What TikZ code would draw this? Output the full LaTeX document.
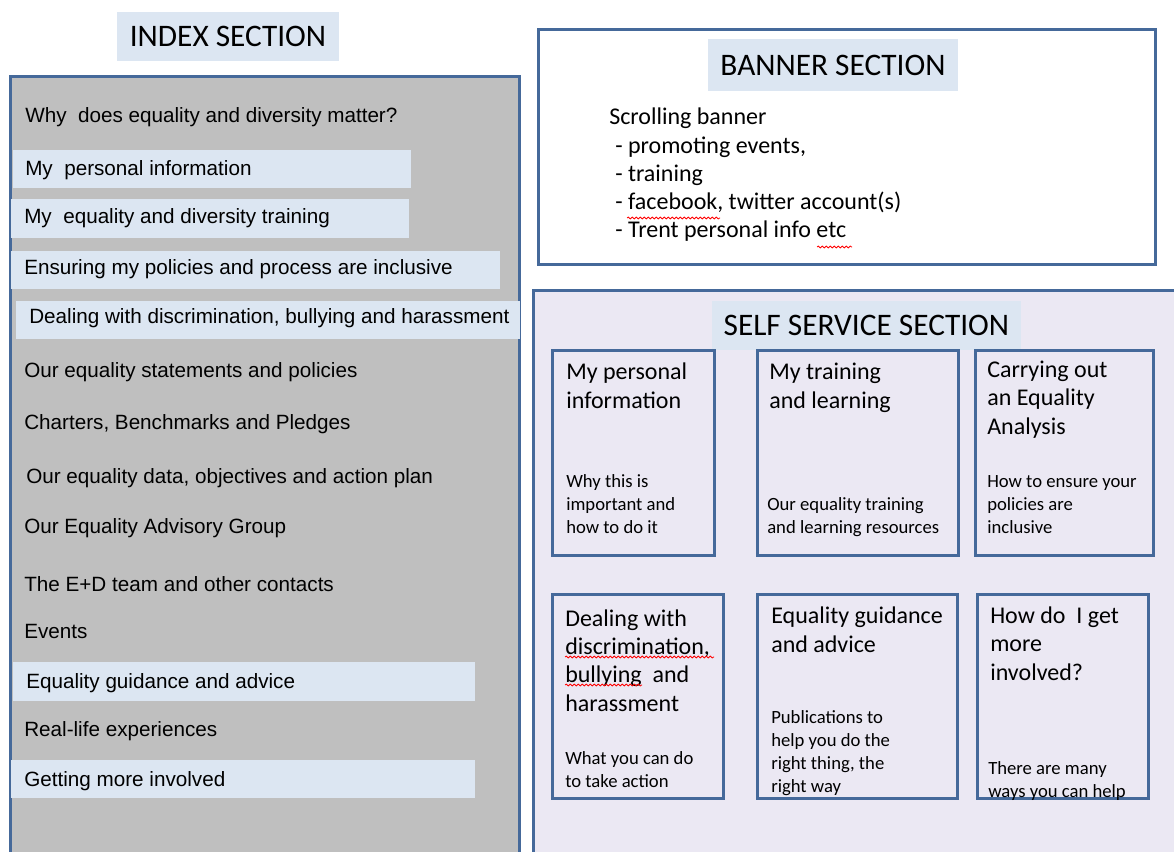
\documentclass[tikz,border=0pt]{standalone}
\usepackage{fontspec}
\usepackage{tikz}
\usetikzlibrary{decorations.pathmorphing}
\newfontfamily\calibri{Carlito}
\newfontfamily\arial{Liberation Sans}
\definecolor{hlblue}{HTML}{DCE6F2}
\definecolor{panelgray}{HTML}{BFBFBF}
\definecolor{ssfill}{HTML}{EBE8F3}
\definecolor{edgeblue}{HTML}{45699A}
\tikzset{%
  panel/.style = {draw=edgeblue,line width=2.25pt},
  hl/.style = {fill=hlblue},
  sectitle/.style = {fill=hlblue,inner sep=0pt,
        font=\calibri\fontsize{23.5}{28}\selectfont},
  item/.style = {anchor=base west,inner sep=0pt,
        font=\arial\fontsize{15.5}{18}\selectfont},
  cardhead/.style = {anchor=base west,inner sep=0pt,align=left,
        font=\calibri\fontsize{18}{21.2}\selectfont},
  cardsub/.style = {anchor=base west,inner sep=0pt,align=left,
        font=\calibri\fontsize{14}{17.25}\selectfont},
  spell/.style = {red,line width=0.6pt,decorate,
        decoration={snake,amplitude=0.7pt,segment length=3pt}}
}

\begin{document}
\begin{tikzpicture}[x=0.75pt,y=-0.75pt]
   \clip (0,0) rectangle (1174,852);

   % index section
   \node[sectitle,minimum width=166.5pt,minimum height=36.75pt]
      (idxtitle) at (228,36.5) {INDEX SECTION};
   \draw[panel,fill=panelgray] (10,77) rectangle (519,900);

   \fill[hl] (13,150) rectangle (411,188);
   \fill[hl] (11,199) rectangle (409,238);
   \fill[hl] (11,251) rectangle (500,289);
   \fill[hl] (16,301) rectangle (520,339);
   \fill[hl] (13,662) rectangle (475,701);
   \fill[hl] (11,760) rectangle (475,798);

   \node[item] (whymatter) at (25,123) {Why\ \ does equality and diversity matter?};
   \node[item] (pinfo) at (25,176) {My\ \ personal information};
   \node[item] (edtrain) at (24,224) {My\ \ equality and diversity training};
   \node[item] (inclusive) at (24,275) {Ensuring my policies and process are inclusive};
   \node[item] (discrim) at (29,324) {Dealing with discrimination, bullying and harassment};
   \node[item] (statements) at (24,377) {Our equality statements and policies};
   \node[item] (charters) at (24,429) {Charters, Benchmarks and Pledges};
   \node[item] (eqdata) at (26,483) {Our equality data, objectives and action plan};
   \node[item] (advisory) at (24,533) {Our Equality Advisory Group};
   \node[item] (edteam) at (24,591) {The E+D team and other contacts};
   \node[item] (events) at (24,638) {Events};
   \node[item] (guidance) at (26,688) {Equality guidance and advice};
   \node[item] (reallife) at (24,736) {Real-life experiences};
   \node[item] (involved) at (24,786) {Getting more involved};

   % banner section (multi-line nodes sit on their last baseline)
   \draw[panel,fill=white] (538,30) rectangle (1155,265);
   \node[sectitle,minimum width=187.5pt,minimum height=39pt]
      (bantitle) at (833,65) {BANNER SECTION};
   \node[cardhead] (bantext) at (609,238) {Scrolling banner\\
      \hspace{4.5pt}- promoting events,\\
      \hspace{4.5pt}- training\\
      \hspace{4.5pt}- facebook, twitter account(s)\\
      \hspace{4.5pt}- Trent personal info etc};
   \draw[spell] (627,218) -- (720,218);
   \draw[spell] (817,247) -- (852,247);

   % self service section
   \draw[panel,fill=ssfill] (533,291) rectangle (1200,900);
   \node[sectitle,minimum width=231.75pt,minimum height=36.75pt]
      (sstitle) at (866.5,325.5) {SELF SERVICE SECTION};

   \draw[panel,fill=ssfill] (552,350) rectangle (714,555);
   \draw[panel,fill=ssfill] (757,350) rectangle (958,555);
   \draw[panel,fill=ssfill] (975,350) rectangle (1153,555);
   \draw[panel,fill=ssfill] (552,594) rectangle (723,798);
   \draw[panel,fill=ssfill] (757,594) rectangle (957,798);
   \draw[panel,fill=ssfill] (977,594) rectangle (1148,798);

   \node[cardhead] (pinfo-head) at (566,408) {My personal\\information};
   \node[cardsub] (pinfo-sub) at (566,533) {Why this is\\important and\\how to do it};

   \node[cardhead] (train-head) at (769,408) {My training\\and learning};
   \node[cardsub] (train-sub) at (767,533) {Our equality training\\and learning resources};

   \node[cardhead] (eqa-head) at (987,434) {Carrying out\\an Equality\\Analysis};
   \node[cardsub] (eqa-sub) at (987,533) {How to ensure your\\policies are\\inclusive};

   \node[cardhead] (discrim-head) at (565,711) {Dealing with\\discrimination,\\bullying\ \ and\\harassment};
   \node[cardsub] (discrim-sub) at (565,787) {What you can do\\to take action};
   \draw[spell] (565,657) -- (714,657);
   \draw[spell] (565,685) -- (642,685);

   \node[cardhead] (advice-head) at (771,652) {Equality guidance\\and advice};
   \node[cardsub] (advice-sub) at (771,792) {Publications to\\help you do the\\right thing, the\\right way};

   \node[cardhead] (more-head) at (990,680) {How do\ \ I get\\more\\involved?};
   \node[cardsub] (more-sub) at (988,797) {There are many\\ways you can help};
\end{tikzpicture}
\end{document}
